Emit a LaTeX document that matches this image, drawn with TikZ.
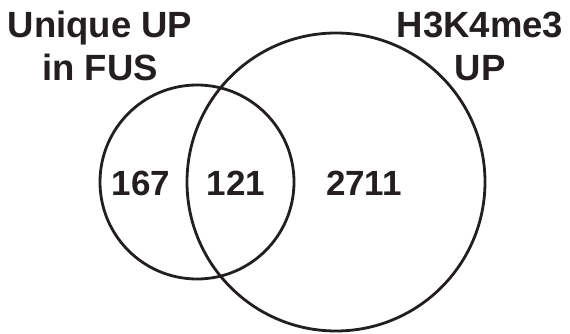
\documentclass[tikz,border=0pt]{standalone}
\usepackage{fontspec}
\setmainfont{Liberation Sans}
\usetikzlibrary{positioning}
\definecolor{VennInk}{RGB}{35, 31, 32}

\tikzset{
  vennset/.style={circle, draw=VennInk, line width=2.8pt, inner sep=0pt},
  vennlabel/.style={font=\bfseries\fontsize{35}{43}\selectfont, text=VennInk, align=center, inner sep=0pt},
  venntitle/.style={vennlabel, font=\bfseries\fontsize{36.5}{43}\selectfont},
}

\begin{document}
\begin{tikzpicture}[x=1pt, y=-1pt]
    \useasboundingbox (0,0) rectangle (570,334);

    % the two sets
    \node[vennset, minimum size=194pt] (fus) at (197,182) {};
    \node[vennset, minimum size=298pt] (h3k) at (336,182) {};

    % set titles
    \node[venntitle] (fusTitle) at (100,46) {Unique UP\\in FUS};
    \node[venntitle] (h3kTitle) at (480,46) {H3K4me3\\UP};

    % region counts
    \node[vennlabel] (onlyFus) at (141,183) {167};
    \node[vennlabel] (both) at (236,183) {121};
    \node[vennlabel] (onlyH3k) at (364,183) {2711};
\end{tikzpicture}
\end{document}
